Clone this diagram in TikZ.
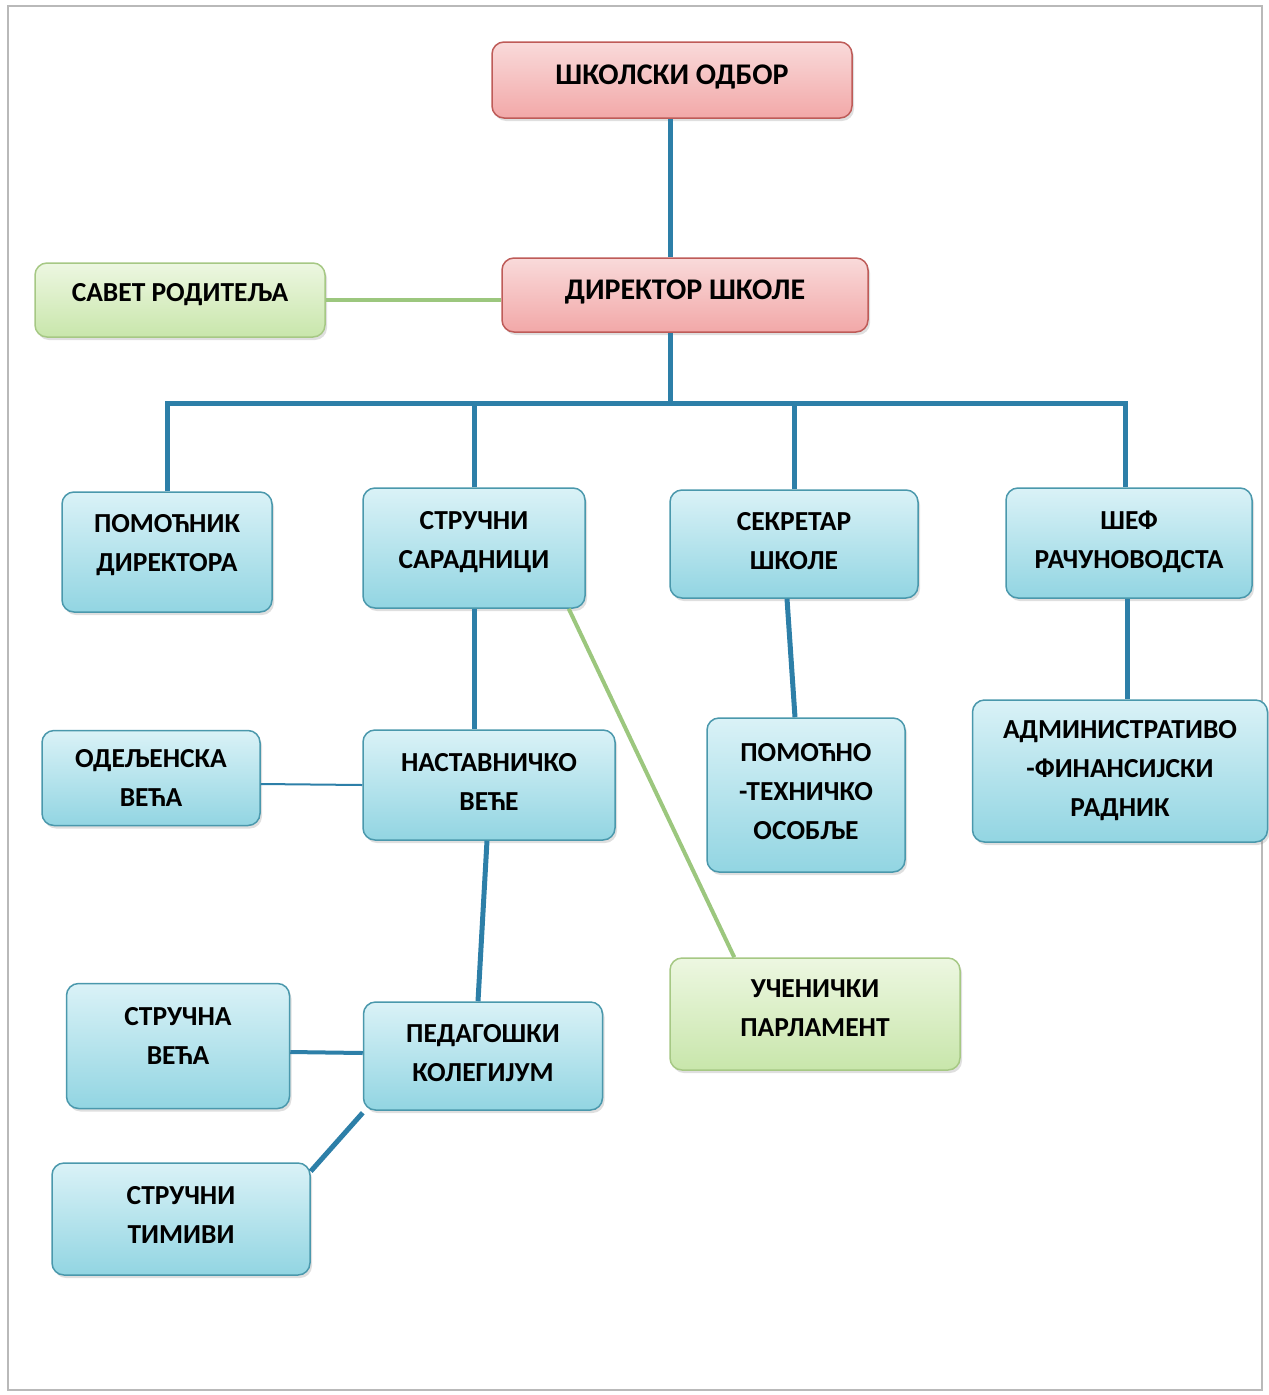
\documentclass[tikz,border=0pt]{standalone}
\usepackage{fontspec}
\setmainfont{Carlito}
\usetikzlibrary{shadows}

\definecolor{plavagore}{HTML}{DAF2F7}
\definecolor{plavadole}{HTML}{92D5E2}
\definecolor{plavarub}{HTML}{4A98AC}
\definecolor{rozegore}{HTML}{F9DADA}
\definecolor{rozedole}{HTML}{F2A8A8}
\definecolor{rozerub}{HTML}{BE5B58}
\definecolor{zelenagore}{HTML}{EDF7E1}
\definecolor{zelenadole}{HTML}{C8E6AB}
\definecolor{zelenarub}{HTML}{A6C884}
\definecolor{vezaplava}{HTML}{2D7FA8}
\definecolor{vezazelena}{HTML}{9CC77E}

\tikzset{
  kutija/.style={draw, rounded corners=12pt, line width=1.5pt, align=center, inner ysep=0pt,
    font=\fontsize{27.5}{39}\selectfont\bfseries,
    drop shadow={opacity=0.25, shadow xshift=2pt, shadow yshift=-3pt}},
  % tekst=s: text centre s pt above the box centre
  tekst/.style={execute at begin node={\rule{0pt}{49pt}},
    execute at end node={\rule[-\dimexpr -0.7pt+#1pt*2\relax]{0pt}{0pt}}},
  jtekst/.style={execute at begin node={\rule{0pt}{33pt}},
    execute at end node={\rule[-\dimexpr 15.3pt+#1pt*2\relax]{0pt}{0pt}}},
  ptekst/.style={execute at begin node={\rule{0pt}{33pt}},
    execute at end node={\rule[-\dimexpr 13.7pt+#1pt*2\relax]{0pt}{0pt}}},
  plava/.style={kutija, draw=plavarub, top color=plavagore, bottom color=plavadole},
  roze/.style={kutija, draw=rozerub, top color=rozegore, bottom color=rozedole,
    font=\fontsize{30}{39}\selectfont\bfseries},
  zelena/.style={kutija, draw=zelenarub, top color=zelenagore, bottom color=zelenadole},
  veza/.style={draw=vezaplava, line width=5pt},
  zveza/.style={draw=vezazelena, line width=4pt},
}

\begin{document}
\begin{tikzpicture}[x=1pt,y=-1pt]
\useasboundingbox (0,0) rectangle (1269,1395);
\draw[gray!55, line width=1.5pt] (8,6) rectangle (1262,1390);

\node[roze, ptekst=5, minimum width=360pt, minimum height=76pt] (odbor)at(672,80) {ШКОЛСКИ ОДБОР};
\node[roze, ptekst=5, minimum width=366pt, minimum height=74pt] (direktor)at(685,295) {ДИРЕКТОР ШКОЛЕ};
\node[zelena, jtekst=7, minimum width=290pt, minimum height=74pt] (savet)at(180,300) {САВЕТ РОДИТЕЉА};

\node[plava, tekst=9, minimum width=210pt, minimum height=120pt] (pomocnik)at(167,552) {ПОМОЋНИК\\ДИРЕКТОРА};
\node[plava, tekst=8, minimum width=222pt, minimum height=120pt] (saradnici)at(474,548) {СТРУЧНИ\\САРАДНИЦИ};
\node[plava, tekst=3.5, minimum width=248pt, minimum height=108pt] (sekretar)at(794,544) {СЕКРЕТАР\\ШКОЛЕ};
\node[plava, tekst=4, minimum width=246pt, minimum height=110pt] (sef)at(1129,543) {ШЕФ\\РАЧУНОВОДСТА};

\node[plava, tekst=0.35, minimum width=218pt, minimum height=95pt] (odeljenska)at(151,778) {ОДЕЉЕНСКА\\ВЕЋА};
\node[plava, tekst=3.5, minimum width=252pt, minimum height=110pt] (nastavnicko)at(489,785) {НАСТАВНИЧКО\\ВЕЋЕ};
\node[plava, tekst=4, minimum width=198pt, minimum height=154pt] (pomocno)at(806,795) {ПОМОЋНО\\-ТЕХНИЧКО\\ОСОБЉЕ};
\node[plava, tekst=0.35, minimum width=295pt, minimum height=142pt] (admin)at(1120,771) {АДМИНИСТРАТИВО\\-ФИНАНСИЈСКИ\\РАДНИК};

\node[plava, tekst=10.5, minimum width=223pt, minimum height=125pt] (strucna)at(178,1046) {СТРУЧНА\\ВЕЋА};
\node[plava, tekst=3, minimum width=239pt, minimum height=108pt] (pedagoski)at(483,1056) {ПЕДАГОШКИ\\КОЛЕГИЈУМ};
\node[zelena, tekst=6, minimum width=290pt, minimum height=112pt] (parlament)at(815,1014) {УЧЕНИЧКИ\\ПАРЛАМЕНТ};
\node[plava, tekst=4, minimum width=258pt, minimum height=112pt] (timovi)at(181,1219) {СТРУЧНИ\\ТИМИВИ};

% veze
\coordinate (bar) at (670,403);
\draw[veza] (odbor.south -| bar) -- (direktor.north -| bar);
\draw[zveza] (savet.east) -- (savet.east -| direktor.west);
\draw[veza] (direktor.south -| bar) -- (bar);
\draw[veza] (pomocnik.north) |- (bar) -| ([xshift=-4pt]sef.north);
\draw[veza] (saradnici.north) -- (saradnici.north |- bar);
\draw[veza] (sekretar.north) -- (sekretar.north |- bar);

\draw[veza] (saradnici.south) -- (saradnici.south |- nastavnicko.north);
\draw[zveza] ([xshift=-17pt]saradnici.south east) -- ([xshift=65pt]parlament.north west);
\draw[veza, line width=2pt] ([yshift=-6pt]odeljenska.east) -- (nastavnicko.west);
\draw[veza] ([xshift=-2pt]nastavnicko.south) -- ([xshift=-5pt]pedagoski.north);
\draw[veza, line width=4pt] ([yshift=-6pt]strucna.east) -- ([yshift=3pt]pedagoski.west);
\draw[veza] ([yshift=-9pt]timovi.north east) -- ([yshift=-2pt]pedagoski.south west);

\draw[veza] ([xshift=-7pt]sekretar.south) -- ([xshift=-11pt]pomocno.north);
\draw[veza] ([xshift=-2pt]sef.south) -- ([xshift=-2pt]sef.south |- admin.north);
\end{tikzpicture}
\end{document}
